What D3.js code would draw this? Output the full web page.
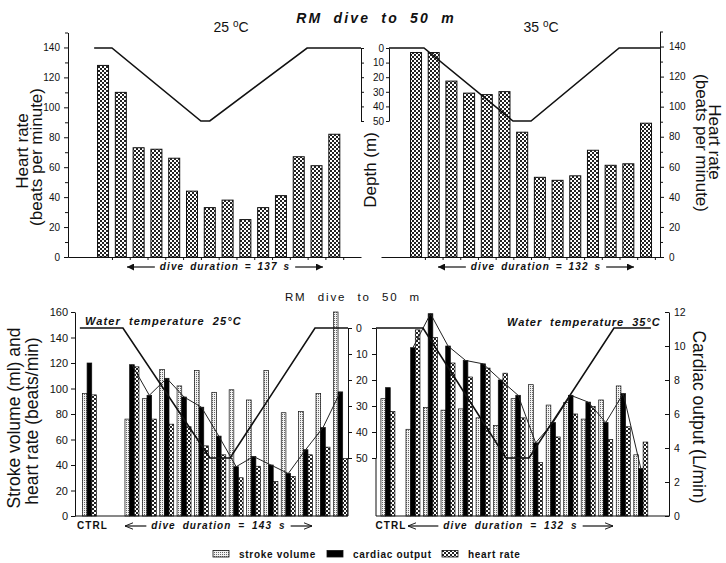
<!DOCTYPE html>
<html><head><meta charset="utf-8">
<script src="https://cdn.jsdelivr.net/npm/d3@7"></script>
<style>body{margin:0;background:#fff}</style>
</head><body>
<svg id="chart" width="726" height="563"></svg>
<script>
// ================= DATA =================
// Top panels: heart rate (beats per minute) per sample
const hrTop25 = [128,110,73,72,66,44,33,38,25,33,41,67,61,82];
const hrTop35 = [136,136,117,109,108,110,83,53,51,54,71,61,62,89];
const hrTicks = [0,20,40,60,80,100,120,140];
const depthTicks = [0,10,20,30,40,50];
// Depth profiles: [sample position, depth (m)]
const depthTop25 = [[-0.5,0],[0.5,0],[5.5,50],[6.0,50],[11.47,0],[14.5,0]];
const depthTop35 = [[-1.53,0],[0.45,0],[5.48,50],[6.5,50],[11.48,0],[13.79,0]];

// Bottom panels
const ctrl25 = {sv:96, co:9.0, hr:95};
const sv25 = [76,92,115,102,114,97,99,91,114,81,82,96,160];
const co25 = [8.9,7.1,8.1,7.0,6.4,4.7,2.9,3.5,3.0,2.5,3.9,5.2,7.3];
const hr25 = [117,76,72,70,55,48,30,39,27,31,48,54,45];
const ctrl35 = {sv:92, co:7.55, hr:82};
const sv35 = [68,85,83,84,77,71,92,103,87,89,76,91,102,48];
const co35 = [9.9,11.9,10.0,9.15,8.95,8.0,7.1,4.3,5.5,7.1,6.7,5.5,7.2,2.8];
const hr35 = [146,140,120,109,116,112,77,42,62,80,86,60,70,58];
const depthBot25 = [[-3.0,0],[-0.52,0],[4.49,50],[5.65,50],[10.54,0],[12.44,0]];
const depthBot35 = [[-2.11,0],[0.57,0],[5.31,50],[6.62,50],[11.47,0],[13.58,0]];
const svTicks = [0,20,40,60,80,100,120,140,160];
const coTicks = [0,2,4,6,8,10,12];
const legendItems = [
  {key:"sv", label:"stroke volume"},
  {key:"co", label:"cardiac output"},
  {key:"hr", label:"heart rate"}
];

// ================= SETUP =================
const FF = "'Liberation Sans', Arial, Helvetica, sans-serif";
const INK = "#111";
const svg = d3.select("#chart").attr("font-family", FF);
const defs = svg.append("defs");

const pc = defs.append("pattern").attr("id","checker").attr("width",4).attr("height",4)
  .attr("patternUnits","userSpaceOnUse");
pc.append("rect").attr("width",4).attr("height",4).attr("fill","#fff");
pc.append("rect").attr("width",2).attr("height",2).attr("fill","#222");
pc.append("rect").attr("x",2).attr("y",2).attr("width",2).attr("height",2).attr("fill","#222");

const ps = defs.append("pattern").attr("id","stipple").attr("width",2).attr("height",2)
  .attr("patternUnits","userSpaceOnUse");
ps.append("rect").attr("width",2).attr("height",2).attr("fill","#f2f2f2");
ps.append("rect").attr("width",1).attr("height",1).attr("fill","#666");

const fills = {sv:"url(#stipple)", co:"#000", hr:"url(#checker)"};

// arrow markers
defs.append("marker").attr("id","arrFill").attr("viewBox","0 0 10 10")
  .attr("refX",10).attr("refY",5).attr("markerWidth",10).attr("markerHeight",7)
  .attr("markerUnits","userSpaceOnUse").attr("orient","auto")
  .append("path").attr("d","M0,0L10,5L0,10Z").attr("fill",INK);
defs.append("marker").attr("id","arrOpen").attr("viewBox","0 0 10 10")
  .attr("refX",10).attr("refY",5).attr("markerWidth",8).attr("markerHeight",8)
  .attr("markerUnits","userSpaceOnUse").attr("orient","auto")
  .append("path").attr("d","M0,1L10,5L0,9").attr("fill","none").attr("stroke",INK).attr("stroke-width",1.2);

function styleAxis(g, fs){
  g.selectAll("path,line").attr("stroke",INK).attr("stroke-width",1);
  g.selectAll("text").attr("font-family",FF).attr("font-size",fs).attr("fill",INK);
  g.attr("font-family",FF);
}

// ================= TOP PANELS =================
const yTL = d3.scaleLinear().domain([0,150]).range([257, 32.5]);
const yTR = d3.scaleLinear().domain([0,150]).range([257, 31.5]);
const dTop = d3.scaleLinear().domain([0,50]).range([48,121]);
const xTL = d3.scaleLinear().domain([-1.97,14.5]).range([68,361]);
const xTR = d3.scaleLinear().domain([-1.98,13.79]).range([381,660]);

// bars
svg.append("g").selectAll("rect").data(hrTop25).join("rect")
  .attr("x",(d,i)=>xTL(i)-5.5).attr("width",11)
  .attr("y",d=>yTL(d)).attr("height",d=>yTL(0)-yTL(d))
  .attr("fill",fills.hr).attr("stroke",INK).attr("stroke-width",1);
svg.append("g").selectAll("rect").data(hrTop35).join("rect")
  .attr("x",(d,i)=>xTR(i)-5.5).attr("width",11)
  .attr("y",d=>yTR(d)).attr("height",d=>yTR(0)-yTR(d))
  .attr("fill",fills.hr).attr("stroke",INK).attr("stroke-width",1);

// axes top-left
styleAxis(svg.append("g").attr("transform","translate(68,0)")
  .call(d3.axisLeft(yTL).tickValues(hrTicks).tickSize(4).tickSizeOuter(0).tickPadding(4)),10);
styleAxis(svg.append("g").attr("transform","translate(68,0)")
  .call(d3.axisLeft(yTL).tickValues(d3.range(10,151,20)).tickSize(3).tickSizeOuter(0).tickFormat("")),10);
styleAxis(svg.append("g").attr("transform","translate(0,257)")
  .call(d3.axisBottom(xTL).tickValues(d3.range(0.5,13.6,1)).tickSize(3).tickSizeOuter(0).tickFormat("")),10);
styleAxis(svg.append("g").attr("transform","translate(361,0)")
  .call(d3.axisRight(dTop).tickValues(depthTicks).tickSize(3).tickSizeOuter(0).tickFormat("")),10);

// axes top-right
styleAxis(svg.append("g").attr("transform","translate(389,0)")
  .call(d3.axisLeft(dTop).tickValues(depthTicks).tickSize(3).tickSizeOuter(0).tickPadding(2)),10);
styleAxis(svg.append("g").attr("transform","translate(660,0)")
  .call(d3.axisRight(yTR).tickValues(hrTicks).tickSize(4).tickSizeOuter(0).tickPadding(5)),10);
styleAxis(svg.append("g").attr("transform","translate(660,0)")
  .call(d3.axisRight(yTR).tickValues(d3.range(10,151,20)).tickSize(3).tickSizeOuter(0).tickFormat("")),10);
styleAxis(svg.append("g").attr("transform","translate(0,257)")
  .call(d3.axisBottom(xTR).tickValues(d3.range(0.5,13.6,1)).tickSize(3).tickSizeOuter(0).tickFormat("")),10);

// depth lines top
const lineTL = d3.line().x(d=>xTL(d[0])).y(d=>dTop(d[1]));
const lineTR = d3.line().x(d=>xTR(d[0])).y(d=>dTop(d[1]));
svg.append("path").attr("d",lineTL(depthTop25)).attr("fill","none").attr("stroke",INK).attr("stroke-width",1.6);
svg.append("path").attr("d",lineTR(depthTop35)).attr("fill","none").attr("stroke",INK).attr("stroke-width",1.6);

// titles top
svg.append("text").attr("x",376).attr("y",23).attr("text-anchor","middle")
  .attr("font-size",14).attr("font-style","italic").attr("font-weight","bold")
  .attr("letter-spacing",2.2).attr("word-spacing",5).attr("fill",INK).text("RM dive to 50 m");
function tempLabel(x, num){
  const t = svg.append("text").attr("x",x).attr("y",32).attr("text-anchor","middle")
    .attr("font-size",14).attr("fill",INK);
  t.append("tspan").text(num+" ");
  t.append("tspan").attr("font-size",10).attr("dy",-5).text("o");
  t.append("tspan").attr("dy",5).text("C");
}
tempLabel(231,"25");
tempLabel(541,"35");

function rotText(x,y,angle,txt,fs){
  svg.append("text").attr("transform",`translate(${x},${y}) rotate(${angle})`)
    .attr("text-anchor","middle").attr("font-size",fs).attr("fill",INK).text(txt);
}
rotText(28,151,-90,"Heart rate",17);
rotText(42,157,-90,"(beats per minute)",17);
rotText(376,170,-90,"Depth (m)",17);
rotText(709,142,90,"Heart rate",17);
rotText(696,143,90,"(beats per minute)",17);

function durationLabel(x1,x2,y,txt,marker,textY,ls,ws){
  const cx=(x1+x2)/2;
  const t = svg.append("text").attr("x",cx).attr("y",textY).attr("text-anchor","middle")
    .attr("font-size",10).attr("font-style","italic").attr("font-weight","bold")
    .attr("letter-spacing",ls).attr("word-spacing",ws).attr("fill",INK).text(txt);
  const w = t.node().getComputedTextLength();
  const gap = 5;
  svg.append("line").attr("x1",cx-w/2-gap).attr("x2",x1).attr("y1",y).attr("y2",y)
    .attr("stroke",INK).attr("stroke-width",1.2).attr("marker-end",`url(#${marker})`);
  svg.append("line").attr("x1",cx+w/2+gap).attr("x2",x2).attr("y1",y).attr("y2",y)
    .attr("stroke",INK).attr("stroke-width",1.2).attr("marker-end",`url(#${marker})`);
}
durationLabel(127,323,267,"dive duration = 137 s","arrFill",270,1.1,2);
durationLabel(438,634,267,"dive duration = 132 s","arrFill",270,1.1,2);

// ================= BOTTOM PANELS =================
const yB = d3.scaleLinear().domain([0,160]).range([516,312]);
const coB = d3.scaleLinear().domain([0,12]).range([516,312]);
const dB = d3.scaleLinear().domain([0,50]).range([328,458]);
const xBL = d3.scaleLinear().domain([-3.28,12.44]).range([75,348]);
const xBR = d3.scaleLinear().domain([-2.11,14.61]).range([376,669]);
const sub = d3.scaleBand().domain(["sv","co","hr"]).range([-7,7]);
const CTRL_POS_25 = -2.45, CTRL_POS_35 = -1.43;

function groups(ctrl, sv, co, hr, ctrlPos){
  const g = [{pos:ctrlPos, sv:ctrl.sv, co:ctrl.co, hr:ctrl.hr}];
  sv.forEach((v,i)=>g.push({pos:i, sv:v, co:co[i], hr:hr[i]}));
  return g;
}
function drawGroups(data, xs){
  const bars = [];
  data.forEach(d=>{
    bars.push({pos:d.pos,key:"sv",y:yB(d.sv)});
    bars.push({pos:d.pos,key:"co",y:coB(d.co)});
    bars.push({pos:d.pos,key:"hr",y:yB(d.hr)});
  });
  svg.append("g").selectAll("rect").data(bars).join("rect")
    .attr("x",d=>xs(d.pos)+sub(d.key)).attr("width",sub.bandwidth())
    .attr("y",d=>d.y).attr("height",d=>516-d.y)
    .attr("fill",d=>fills[d.key]).attr("stroke",INK).attr("stroke-width",0.7);
}
const g25 = groups(ctrl25, sv25, co25, hr25, CTRL_POS_25);
const g35 = groups(ctrl35, sv35, co35, hr35, CTRL_POS_35);
drawGroups(g25, xBL);
drawGroups(g35, xBR);

// cardiac output connecting lines
const coLineL = d3.line().x((d,i)=>xBL(i)).y(d=>coB(d));
const coLineR = d3.line().x((d,i)=>xBR(i)).y(d=>coB(d));
svg.append("path").attr("d",coLineL(co25)).attr("fill","none").attr("stroke","#222").attr("stroke-width",1);
svg.append("path").attr("d",coLineR(co35)).attr("fill","none").attr("stroke","#222").attr("stroke-width",1);

// depth lines bottom
const dLineL = d3.line().x(d=>xBL(d[0])).y(d=>dB(d[1]));
const dLineR = d3.line().x(d=>xBR(d[0])).y(d=>dB(d[1]));
svg.append("path").attr("d",dLineL(depthBot25)).attr("fill","none").attr("stroke",INK).attr("stroke-width",1.6);
svg.append("path").attr("d",dLineR(depthBot35)).attr("fill","none").attr("stroke",INK).attr("stroke-width",1.6);

// axes bottom
styleAxis(svg.append("g").attr("transform","translate(75,0)")
  .call(d3.axisLeft(yB).tickValues(svTicks).tickSize(4).tickSizeOuter(0).tickPadding(3)),11);
styleAxis(svg.append("g").attr("transform","translate(348,0)")
  .call(d3.axisRight(dB).tickValues(depthTicks).tickSize(4).tickSizeOuter(0).tickPadding(4)),10.5);
styleAxis(svg.append("g").attr("transform","translate(376,0)")
  .call(d3.axisLeft(dB).tickValues(depthTicks).tickSize(4).tickSizeOuter(0).tickFormat("")),10.5);
styleAxis(svg.append("g").attr("transform","translate(669,0)")
  .call(d3.axisRight(coB).tickValues(coTicks).tickSize(-4).tickSizeOuter(0).tickPadding(5)),10.5);
// axis extensions & baselines
[[348,dB(50),348,516],[376,dB(50),376,516],[75,516,348,516],[376,516,669,516]].forEach(l=>{
  svg.append("line").attr("x1",l[0]).attr("y1",l[1]).attr("x2",l[2]).attr("y2",l[3])
    .attr("stroke",INK).attr("stroke-width",1);
});

// labels bottom
svg.append("text").attr("x",353).attr("y",301).attr("text-anchor","middle")
  .attr("font-size",11.5).attr("letter-spacing",1.9).attr("word-spacing",6).attr("fill",INK).text("RM dive to 50 m");
svg.append("text").attr("x",85).attr("y",325).attr("font-size",11).attr("font-style","italic")
  .attr("font-weight","bold").attr("letter-spacing",1.1).attr("word-spacing",4).attr("fill",INK)
  .text("Water temperature 25°C");
svg.append("text").attr("x",507).attr("y",326).attr("font-size",11).attr("font-style","italic")
  .attr("font-weight","bold").attr("letter-spacing",0.95).attr("word-spacing",4).attr("fill",INK)
  .text("Water temperature 35°C");
rotText(20,418,-90,"Stroke volume (ml) and",17.5);
rotText(37.5,421,-90,"heart rate (beats/min)",17.5);
rotText(693,417,90,"Cardiac output (L/min)",17.5);

svg.append("text").attr("x",xBL(CTRL_POS_25)+3).attr("y",529).attr("text-anchor","middle")
  .attr("font-size",10).attr("font-weight","bold").attr("letter-spacing",1).attr("fill",INK).text("CTRL");
svg.append("text").attr("x",xBR(CTRL_POS_35)+3).attr("y",529).attr("text-anchor","middle")
  .attr("font-size",10).attr("font-weight","bold").attr("letter-spacing",1).attr("fill",INK).text("CTRL");
durationLabel(125,312,526,"dive duration = 143 s","arrOpen",529,1.1,3);
durationLabel(408,613,526,"dive duration = 132 s","arrOpen",529,1.1,3);

// legend
const legX = [213, 327, 442];
legendItems.forEach((it,i)=>{
  svg.append("rect").attr("x",legX[i]).attr("y",550.5).attr("width",16).attr("height",6.5)
    .attr("fill",fills[it.key]).attr("stroke",INK).attr("stroke-width",0.8);
  svg.append("text").attr("x",legX[i]+26).attr("y",557.5).attr("font-size",10)
    .attr("font-weight","bold").attr("letter-spacing",0.7).attr("fill",INK).text(it.label);
});
</script>
</body></html>
